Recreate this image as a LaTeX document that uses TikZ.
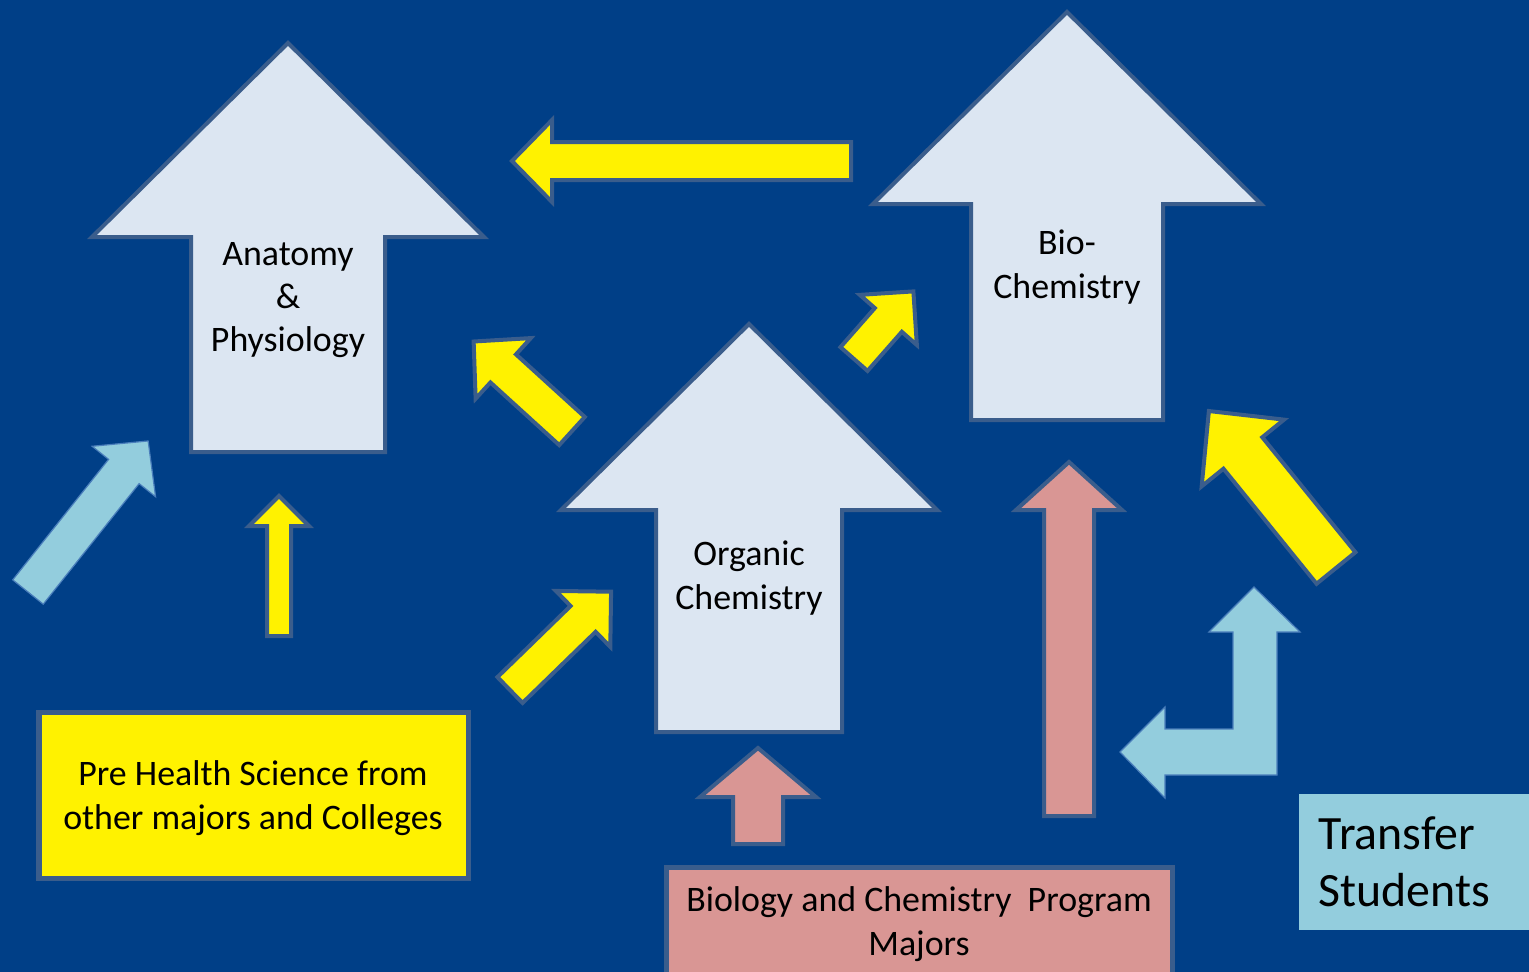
\documentclass[tikz,border=0pt]{standalone}
\usepackage{fontspec}
\setmainfont{Carlito}
\usepackage{tikz}
\usetikzlibrary{positioning}

\definecolor{bgblue}{RGB}{0,63,135}
\definecolor{edgeblue}{RGB}{58,93,140}
\definecolor{paleblue}{RGB}{220,230,242}
\definecolor{skyblue}{RGB}{147,205,221}
\definecolor{skyedge}{RGB}{74,126,187}
\definecolor{rosepink}{RGB}{217,150,148}

% block arrow: style, tail centre, angle, length, shaft half width, head half width, head length
\newcommand{\blockarrow}[7]{%
  \begin{scope}[shift={(#2)},rotate=#3]
    \draw[#1] (0,-#5) -- ({#4-#7},-#5) -- ({#4-#7},-#6) -- (#4,0)
      -- ({#4-#7},#6) -- ({#4-#7},#5) -- (0,#5) -- cycle;
  \end{scope}}

\tikzset{
  bigarrow/.style={fill=paleblue, draw=edgeblue, line width=0.04cm, line join=miter},
  yellowarrow/.style={fill=yellow, draw=edgeblue, line width=0.04cm, line join=miter},
  pinkarrow/.style={fill=rosepink, draw=edgeblue, line width=0.04cm, line join=miter},
  bluearrow/.style={fill=skyblue, draw=skyedge, line width=0.012cm, line join=miter},
  label/.style={align=center, inner sep=0pt, font=\fontsize{10.2}{12.3}\selectfont},
}

\begin{document}
\begin{tikzpicture}[x=0.01cm, y=-0.01cm]
	\useasboundingbox (0,0) rectangle (1529,972);
	\clip (0,0) rectangle (1529,972);
	\fill[bgblue] (0,0) rectangle (1529,972);

	% course arrows
	\blockarrow{bigarrow}{288,452}{90}{409}{97}{196}{194}
	\blockarrow{bigarrow}{1067,420}{90}{408}{96}{194}{192}
	\blockarrow{bigarrow}{749,732}{90}{408}{93}{188}{186}
	\node[label] (anatomy) at (288,300) {Anatomy\\\&\\Physiology};
	\node[label] (biochem) at (1067,267) {Bio-\\Chemistry};
	\node[label] (organic) at (749,578) {Organic\\Chemistry};

	% yellow arrows
	\blockarrow{yellowarrow}{851,161}{180}{339}{19}{41}{40}
	\blockarrow{yellowarrow}{279,636}{90}{140}{12}{30}{30}
	\blockarrow{yellowarrow}{572,431}{137.7}{133}{19}{41}{40}
	\blockarrow{yellowarrow}{510,690}{44.2}{141}{18}{39}{39}
	\blockarrow{yellowarrow}{854,359}{48.7}{90}{18}{38}{38}
	\blockarrow{yellowarrow}{1336,568}{129}{202}{25}{53}{54}

	% pink arrows
	\blockarrow{pinkarrow}{758,844}{90}{96}{25}{58}{49}
	\blockarrow{pinkarrow}{1069,816}{90}{354}{25}{53}{48}

	% light blue arrows
	\blockarrow{bluearrow}{28,592}{51.5}{193}{19.5}{40.5}{39}
	\draw[bluearrow] (1165,707) -- (1165,729) -- (1233,729) -- (1233,632) -- (1209,632)
	  -- (1254,587) -- (1300,632) -- (1277,632) -- (1277,775) -- (1165,775)
	  -- (1165,798) -- (1120,752) -- cycle;

	% source boxes
	\draw[fill=yellow, draw=edgeblue, line width=0.05cm] (39,712) rectangle (468,878);
	\node[label] (prehealth) at (253,798) {Pre Health Science from\\other majors and Colleges};
	\draw[fill=rosepink, draw=edgeblue, line width=0.05cm] (666,867) rectangle (1172,1000);
	\node[label] (majors) at (919,924) {Biology and Chemistry~ Program\\Majors};
	\fill[skyblue] (1299,794) rectangle (1540,930);
	\node[label, align=left, anchor=west, font=\fontsize{13.6}{16.3}\selectfont] (transfer) at (1318,862) {Transfer\\Students};
\end{tikzpicture}
\end{document}
